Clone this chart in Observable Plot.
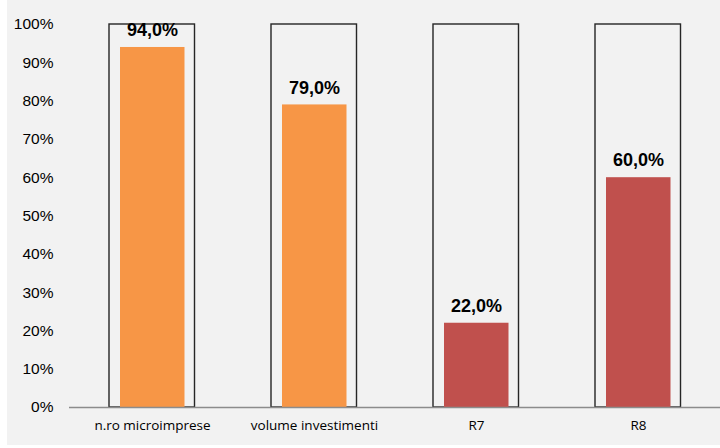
<!DOCTYPE html>
<html>
<head>
<meta charset="utf-8">
<script src="https://cdn.jsdelivr.net/npm/d3@7"></script>
<script src="https://cdn.jsdelivr.net/npm/@observablehq/plot@0.6"></script>
<style>
  html, body { margin: 0; padding: 0; background: #ffffff; }
  #chart { position: absolute; left: 7px; top: 0; width: 713px; height: 445px; background: #f2f2f2; overflow: hidden; }
</style>
</head>
<body>
<div id="chart"></div>
<script>
const categories = ["n.ro microimprese", "volume investimenti", "R7", "R8"];
const values = [94, 79, 22, 60];
const barColors = ["#F79646", "#F79646", "#C0504D", "#C0504D"];
const yTicks = [0, 10, 20, 30, 40, 50, 60, 70, 80, 90, 100];
const maxValue = 100;

const data = categories.map((c, i) => ({cat: c, value: values[i], color: barColors[i], max: maxValue}));

const chart = Plot.plot({
  width: 713,
  height: 445,
  marginLeft: 62,
  marginRight: 0,
  marginTop: 24,
  marginBottom: 38,
  style: {background: "transparent", fontFamily: "Liberation Sans, Arial, sans-serif"},
  x: {domain: categories, label: null, padding: 0},
  y: {domain: [0, 100], label: null},
  marks: [
    Plot.barY(data, {x: "cat", y: "max", fill: "#f2f2f2", stroke: "#262626", strokeWidth: 1.4, insetLeft: 38, insetRight: 38.5}),
    Plot.barY(data, {x: "cat", y: "value", fill: "color", insetLeft: 49, insetRight: 48.5}),
    Plot.ruleY([0], {stroke: "#8c8c8c", strokeWidth: 1.5}),
    Plot.axisY({ticks: yTicks, tickFormat: d => d + "%", tickSize: 0, tickPadding: 16, fontSize: 15.5, line: true, stroke: "#8c8c8c", color: "#000", label: null}),
    Plot.axisX({tickSize: 0, tickPadding: 13, fontSize: 13.5, fontFamily: "Open Sans, sans-serif", color: "#000", label: null}),
    Plot.text(data, {x: "cat", y: "value", text: d => d.value.toFixed(1).replace(".", ",") + "%", dy: -17, fontSize: 18, fontWeight: "bold", fill: "#000", lineAnchor: "middle"})
  ]
});
document.getElementById("chart").appendChild(chart);
</script>
</body>
</html>
